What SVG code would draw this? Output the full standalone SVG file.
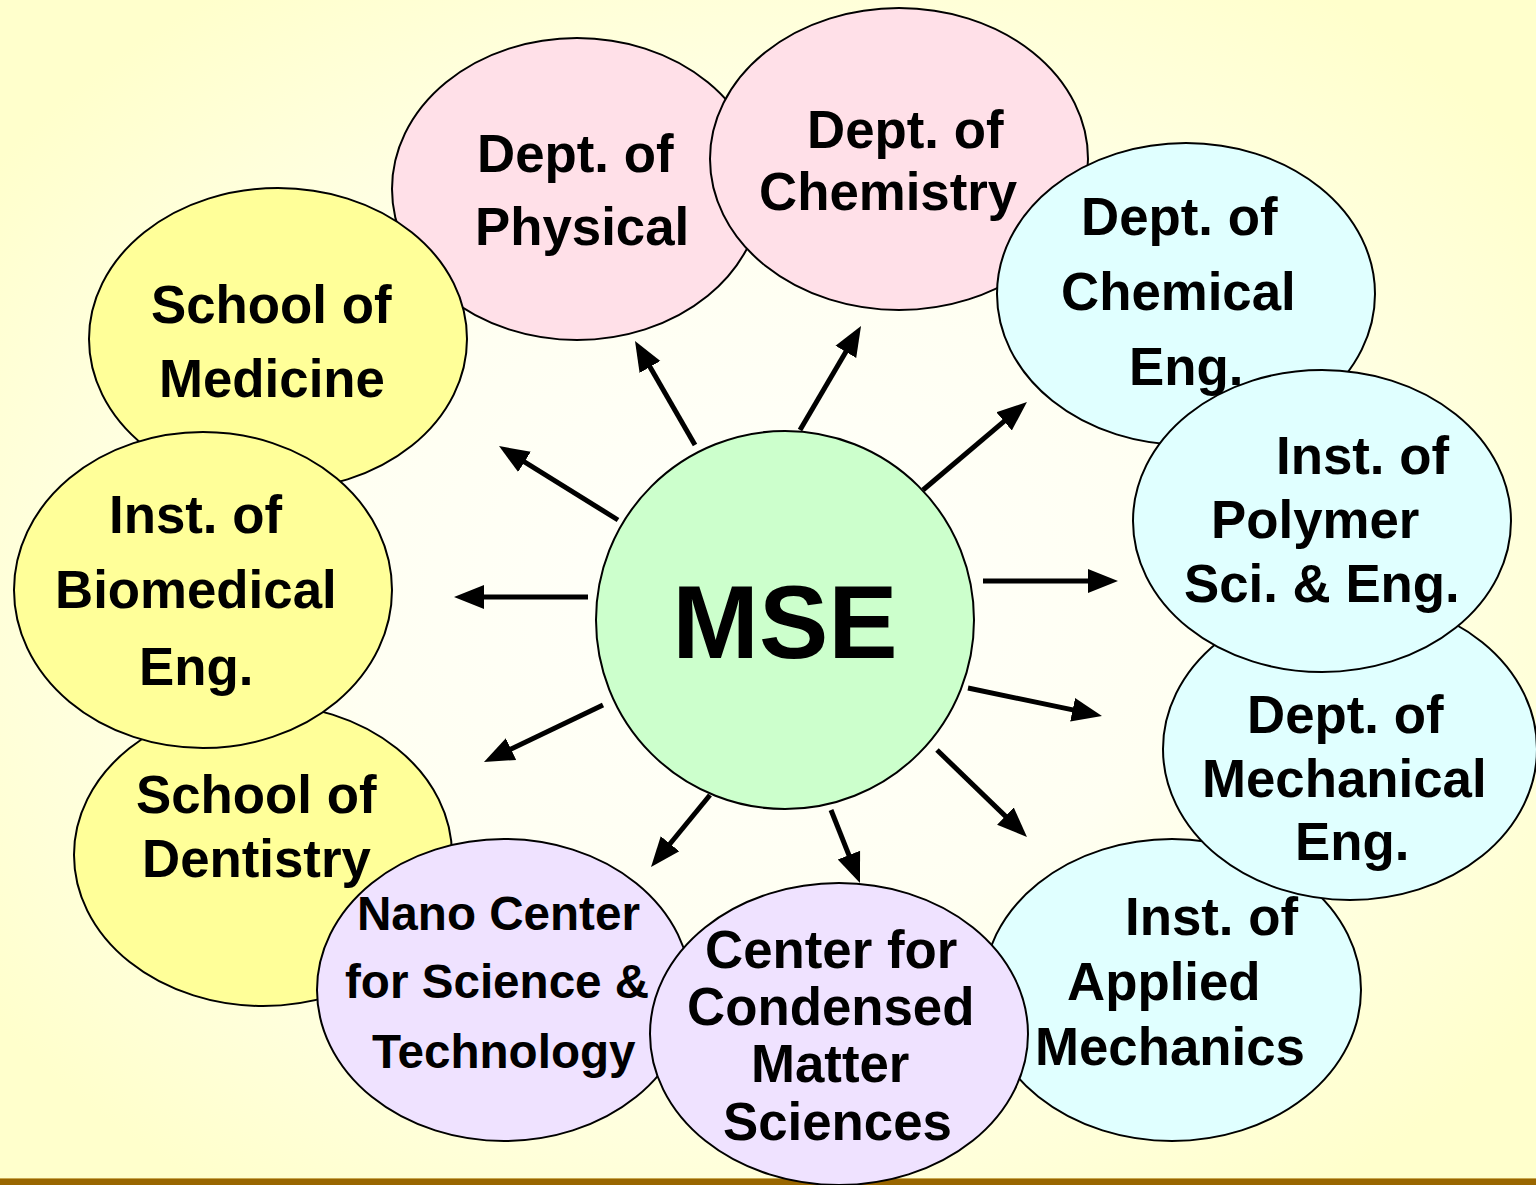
<svg xmlns="http://www.w3.org/2000/svg" width="1536" height="1185" viewBox="0 0 1536 1185">
  <defs>
    <radialGradient id="bg" cx="50%" cy="50%" r="62%">
      <stop offset="0" stop-color="#FFFFFB"/>
      <stop offset="0.45" stop-color="#FFFFF2"/>
      <stop offset="1" stop-color="#FFFFCC"/>
    </radialGradient>
    <marker id="head" markerUnits="userSpaceOnUse" markerWidth="32" markerHeight="28" viewBox="0 -14 32 28" refX="10" refY="0" orient="auto">
      <path d="M0,-12 L30,0 L0,12 z" fill="#000"/>
    </marker>
  </defs>
  <style>
    .node { stroke: #000; stroke-width: 2; }
    .pink { fill: #FFE0E8; }
    .cyan { fill: #E0FFFF; }
    .yellow { fill: #FFFF99; }
    .lilac { fill: #EFE2FF; }
    .green { fill: #CCFFCC; }
    text { font-family: "Liberation Sans", Arial, sans-serif; font-weight: bold; fill: #000; }
    .t { font-size: 52.8px; }
    .s { font-size: 47.6px; }
    .big { font-size: 104px; }
    .arrow { stroke: #000; stroke-width: 5; fill: none; marker-end: url(#head); }
  </style>

  <rect x="0" y="0" width="1536" height="1185" fill="url(#bg)"/>
  <rect x="0" y="1178" width="1536" height="1" fill="#C8A850"/>
  <rect x="0" y="1179" width="1536" height="6" fill="#996600"/>

  <g id="dept-physical">
    <ellipse class="node pink" cx="577" cy="189" rx="185" ry="151"/>
    <text class="t" x="477" y="172">Dept. of</text>
    <text class="t" x="475" y="245">Physical</text>
  </g>
  <g id="dept-chemistry">
    <ellipse class="node pink" cx="899" cy="159" rx="189" ry="151"/>
    <text class="t" x="807" y="148">Dept. of</text>
    <text class="t" x="759" y="210">Chemistry</text>
  </g>
  <g id="dept-chemical-eng">
    <ellipse class="node cyan" cx="1186" cy="294" rx="189" ry="151"/>
    <text class="t" x="1081" y="235">Dept. of</text>
    <text class="t" x="1061" y="310">Chemical</text>
    <text class="t" x="1129" y="385">Eng.</text>
  </g>
  <g id="school-medicine">
    <ellipse class="node yellow" cx="278" cy="339" rx="189" ry="151"/>
    <text class="t" x="151" y="323">School of</text>
    <text class="t" x="159" y="397">Medicine</text>
  </g>
  <g id="school-dentistry">
    <ellipse class="node yellow" cx="263" cy="855" rx="189" ry="151"/>
    <text class="t" x="136" y="813">School of</text>
    <text class="t" x="142" y="877">Dentistry</text>
  </g>
  <g id="inst-biomedical">
    <ellipse class="node yellow" cx="203" cy="590" rx="189" ry="158"/>
    <text class="t" x="109" y="533">Inst. of</text>
    <text class="t" x="55" y="608">Biomedical</text>
    <text class="t" x="139" y="685">Eng.</text>
  </g>
  <g id="inst-applied-mechanics">
    <ellipse class="node cyan" cx="1172" cy="990" rx="189" ry="151"/>
    <text class="t" x="1125" y="935">Inst. of</text>
    <text class="t" x="1067" y="1000">Applied</text>
    <text class="t" x="1035" y="1065">Mechanics</text>
  </g>
  <g id="dept-mechanical">
    <ellipse class="node cyan" cx="1350" cy="749" rx="187" ry="151"/>
    <text class="t" x="1247" y="733">Dept. of</text>
    <text class="t" x="1202" y="797">Mechanical</text>
    <text class="t" x="1295" y="860">Eng.</text>
  </g>
  <g id="inst-polymer">
    <ellipse class="node cyan" cx="1322" cy="521" rx="189" ry="151"/>
    <text class="t" x="1276" y="474">Inst. of</text>
    <text class="t" x="1211" y="538">Polymer</text>
    <text class="t" x="1184" y="602">Sci. &amp; Eng.</text>
  </g>
  <g id="nano-center">
    <ellipse class="node lilac" cx="504" cy="990" rx="187" ry="151"/>
    <text class="s" x="357" y="930">Nano Center</text>
    <text class="s" x="345" y="998">for Science &amp;</text>
    <text class="s" x="372" y="1068">Technology</text>
  </g>
  <g id="center-condensed-matter">
    <ellipse class="node lilac" cx="839" cy="1034" rx="189" ry="151"/>
    <text class="t" x="705" y="968">Center for</text>
    <text class="t" x="687" y="1025">Condensed</text>
    <text class="t" x="751" y="1082">Matter</text>
    <text class="t" x="723" y="1140">Sciences</text>
  </g>
  <g id="mse">
    <circle class="node green" cx="785" cy="620" r="189"/>
    <text class="big" x="785" y="658" text-anchor="middle">MSE</text>
  </g>

  <g id="connectors">
    <line class="arrow" x1="695" y1="445" x2="645" y2="358.3"/>
    <line class="arrow" x1="800" y1="430" x2="850.9" y2="343.3"/>
    <line class="arrow" x1="923" y1="490" x2="1011.7" y2="414.9"/>
    <line class="arrow" x1="983" y1="581" x2="1098" y2="581"/>
    <line class="arrow" x1="968" y1="688" x2="1082.4" y2="711.9"/>
    <line class="arrow" x1="937" y1="750" x2="1012.6" y2="823.1"/>
    <line class="arrow" x1="831" y1="810" x2="852.6" y2="864.4"/>
    <line class="arrow" x1="710" y1="795" x2="663.7" y2="851.5"/>
    <line class="arrow" x1="603" y1="705" x2="502" y2="753.4"/>
    <line class="arrow" x1="588" y1="597" x2="474" y2="597"/>
    <line class="arrow" x1="618" y1="520" x2="516" y2="456.6"/>
  </g>
</svg>
